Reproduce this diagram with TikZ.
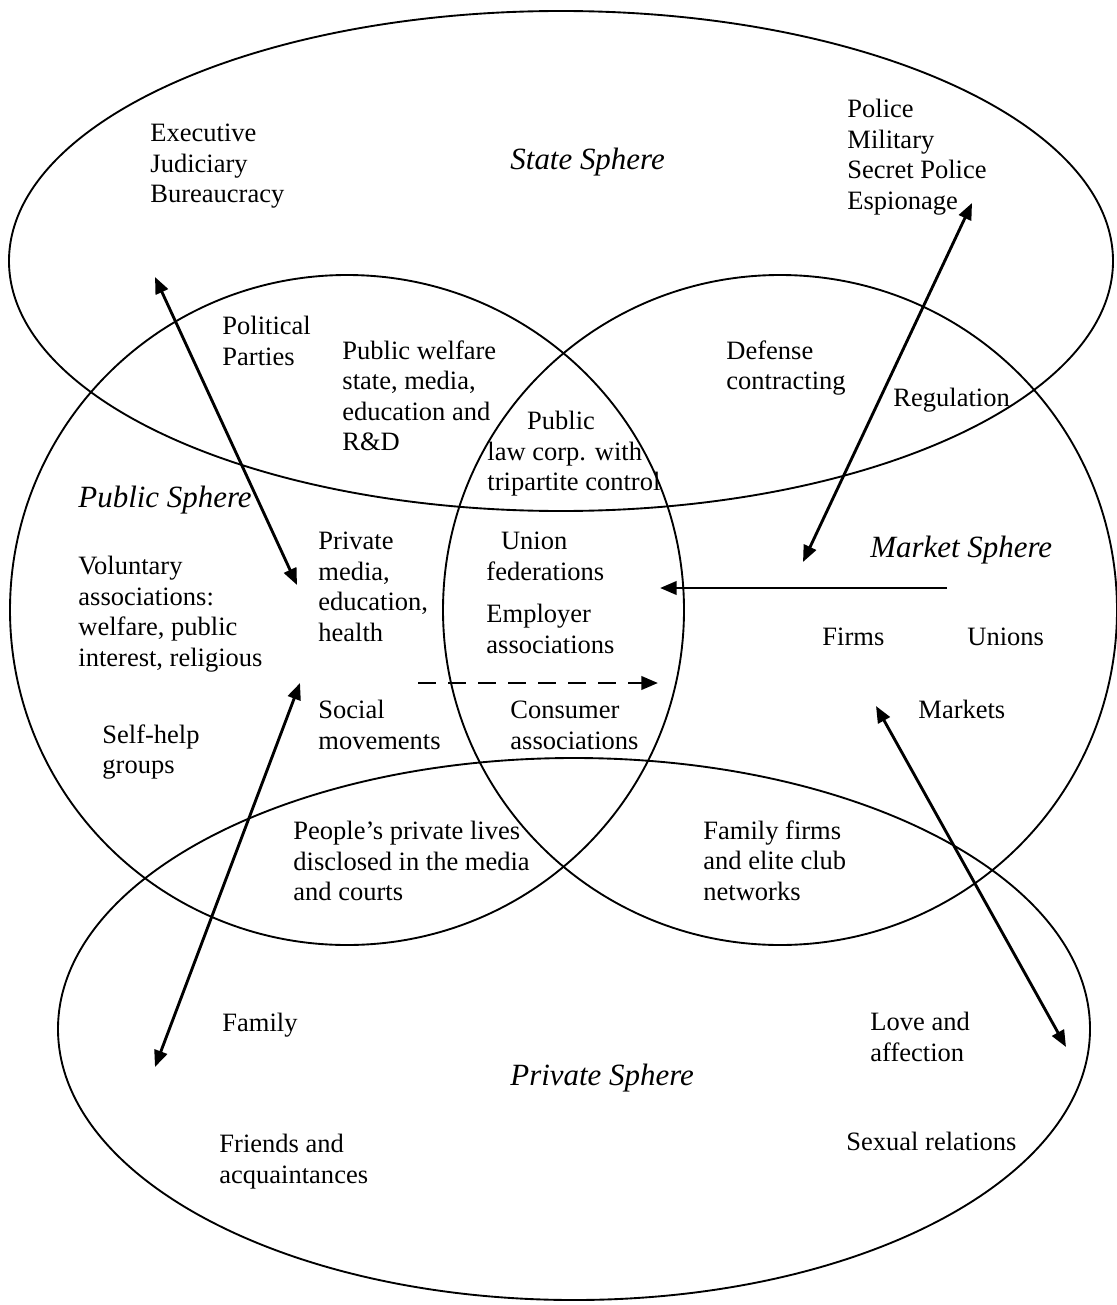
\documentclass[tikz,border=0pt]{standalone}
\usepackage{fontspec}
\setmainfont{Liberation Serif}
\usetikzlibrary{arrows.meta}
\begin{document}
\begin{tikzpicture}[x=0.4528pt,y=-0.4528pt,
  sphere/.style={black,line width=0.85pt},
  lbl/.style={anchor=north west,align=left,inner sep=0pt,font=\fontsize{12}{13.8}\selectfont},
  title/.style={anchor=base west,inner sep=0pt,font=\fontsize{14}{16}\selectfont\itshape},
  link/.style={line width=1.3pt,{Triangle[length=7.5pt,width=6pt]}-{Triangle[length=7.5pt,width=6pt]}},
  push/.style={line width=1.3pt,-{Triangle[length=7.5pt,width=6pt]}}]
\useasboundingbox (0,0) rectangle (1117,1305);
% spheres
\draw [sphere] (561,261) ellipse [x radius=552,y radius=250];
\draw [sphere] (347,610) ellipse [x radius=337,y radius=335];
\draw [sphere] (780,610) ellipse [x radius=337,y radius=335];
\draw [sphere] (574,1029) ellipse [x radius=516,y radius=271];
% sphere titles
\node [title] (statet) at (510,170) {State Sphere};
\node [title] (publict) at (78,507) {Public Sphere};
\node [title] (markett) at (870,557) {Market Sphere};
\node [title] (privatet) at (510,1085) {Private Sphere};
% state
\node [lbl] (exec) at (150,124) {Executive\\Judiciary\\Bureaucracy};
\node [lbl] (police) at (847,99) {Police\\Military\\Secret Police\\Espionage};
\node [lbl] (parties) at (222,316) {Political\\Parties};
\node [lbl] (welfare) at (342,340) {Public welfare\\state, media,\\education and\\R\&D};
\node [lbl] (lawcorp) at (487,411) {\hspace*{1.5em}Public\\law corp. with\\tripartite control};
\node [lbl] (defense) at (726,340) {Defense\\contracting};
\node [lbl] (regul) at (893,388) {Regulation};
% public and market
\node [lbl] (privmedia) at (318,532) {Private\\media,\\education,\\health};
\node [lbl] (unionfed) at (486,532) {\hspace*{0.55em}Union\\federations};
\node [lbl] (employer) at (486,604) {Employer\\associations};
\node [lbl] (volunt) at (78,556) {Voluntary\\associations:\\welfare, public\\interest, religious};
\node [lbl] (firms) at (822,628) {Firms};
\node [lbl] (unions) at (967,628) {Unions};
\node [lbl] (social) at (318,700) {Social\\movements};
\node [lbl] (consumer) at (510,701) {Consumer\\associations};
\node [lbl] (selfhelp) at (102,724) {Self-help\\groups};
\node [lbl] (markets) at (918,700) {Markets};
% private
\node [lbl] (peoples) at (293,821) {People’s private lives\\disclosed in the media\\and courts};
\node [lbl] (famfirms) at (703,820) {Family firms\\and elite club\\networks};
\node [lbl] (family) at (222,1013) {Family};
\node [lbl] (love) at (870,1012) {Love and\\affection};
\node [lbl] (friends) at (219,1134) {Friends and\\acquaintances};
\node [lbl] (sexual) at (846,1132) {Sexual relations};
% arrow ends
\coordinate (stateL) at (155,277);
\coordinate (publicU) at (297,585);
\coordinate (publicD) at (300,683);
\coordinate (privateL) at (155,1067);
\coordinate (stateR) at (972,203);
\coordinate (marketU) at (803,562);
\coordinate (marketD) at (876,706);
\coordinate (privateR) at (1066,1047);
\coordinate (marketC) at (947,588);
\coordinate (coreR) at (660,588);
\coordinate (moveL) at (418,683);
\coordinate (coreD) at (658,683);
% arrows
\draw [link] (stateL) -- (publicU);
\draw [link] (publicD) -- (privateL);
\draw [link] (stateR) -- (marketU);
\draw [link] (marketD) -- (privateR);
\draw [push] (marketC) -- (coreR);
\draw [push,dash pattern=on 8.2pt off 5.4pt] (moveL) -- (coreD);
\end{tikzpicture}
\end{document}
